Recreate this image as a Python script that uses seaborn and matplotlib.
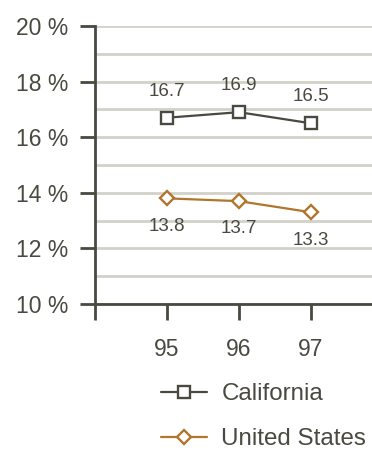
import matplotlib
matplotlib.use("Agg")
import matplotlib.pyplot as plt
import seaborn as sns
import pandas as pd
import numpy as np
from matplotlib.ticker import MultipleLocator

years = ["95", "96", "97"]
california = [16.7, 16.9, 16.5]
united_states = [13.8, 13.7, 13.3]
y_ticks = [10, 12, 14, 16, 18, 20]

sns.set_theme(style="white")
plt.rcParams['font.family'] = ['Liberation Sans', 'DejaVu Sans']

c_cal = "#4a4940"
c_us = "#b0762c"
c_txt = "#4a4940"
c_grid = "#d2d1ca"

pos = np.arange(1, len(years) + 1)
df = pd.DataFrame({
    "x": np.concatenate([pos, pos]),
    "value": california + united_states,
    "series": ["California"] * 3 + ["United States"] * 3,
})

fig = plt.figure(figsize=(3.72, 4.5), dpi=100)
ax = fig.add_axes([95/372, 1 - 304/450, 1 - 95/372, (304 - 26)/450])

ax.set_ylim(10, 20)
ax.set_xlim(0, 277/72)
ax.yaxis.set_minor_locator(MultipleLocator(1))
ax.set_yticks(y_ticks)
ax.set_yticklabels([f"{t} %" for t in y_ticks])
ax.grid(which="both", axis="y", color=c_grid, linewidth=2)
ax.set_axisbelow(True)

for name, vals, col, mk, ms in [("California", california, c_cal, "s", 8.5),
                                 ("United States", united_states, c_us, "D", 7)]:
    sub = df[df.series == name]
    sns.lineplot(data=sub, x="x", y="value", ax=ax, color=col, linewidth=1.6,
                 marker=mk, markersize=ms, markerfacecolor="white",
                 markeredgecolor=col, markeredgewidth=1.7, label=name)

for x, v in zip(pos, california):
    ax.annotate(f"{v}", (x, v), xytext=(0, 19), textcoords="offset points",
                ha="center", va="center", fontsize=13.5, color=c_txt)
for x, v in zip(pos, united_states):
    ax.annotate(f"{v}", (x, v), xytext=(0, -20), textcoords="offset points",
                ha="center", va="center", fontsize=13.5, color=c_txt)

ax.set_xticks([0] + list(pos))
ax.set_xticklabels([""] + years)
ax.set_xlabel("")
ax.set_ylabel("")

for s in ["top", "right"]:
    ax.spines[s].set_visible(False)
for s in ["left", "bottom"]:
    ax.spines[s].set_color(c_cal)
    ax.spines[s].set_linewidth(2)

ax.tick_params(axis="y", which="major", direction="out", length=11, width=2,
               color=c_cal, labelcolor=c_txt, labelsize=16.5, pad=8, left=True)
ax.tick_params(axis="y", which="minor", length=0)
ax.tick_params(axis="x", direction="out", length=11.5, width=2, color=c_cal,
               labelcolor=c_txt, labelsize=16.5, pad=13, bottom=True)

handles, labels = ax.get_legend_handles_labels()
ax.get_legend().remove()
fig.legend(handles, labels, loc="upper left", bbox_to_anchor=(161/372, 1 - 383/450),
           frameon=False, fontsize=17.4, labelcolor=c_txt, handlelength=1.9,
           handletextpad=0.6, labelspacing=0.95, borderpad=0, borderaxespad=0)

fig.savefig("out.png", dpi=100)
